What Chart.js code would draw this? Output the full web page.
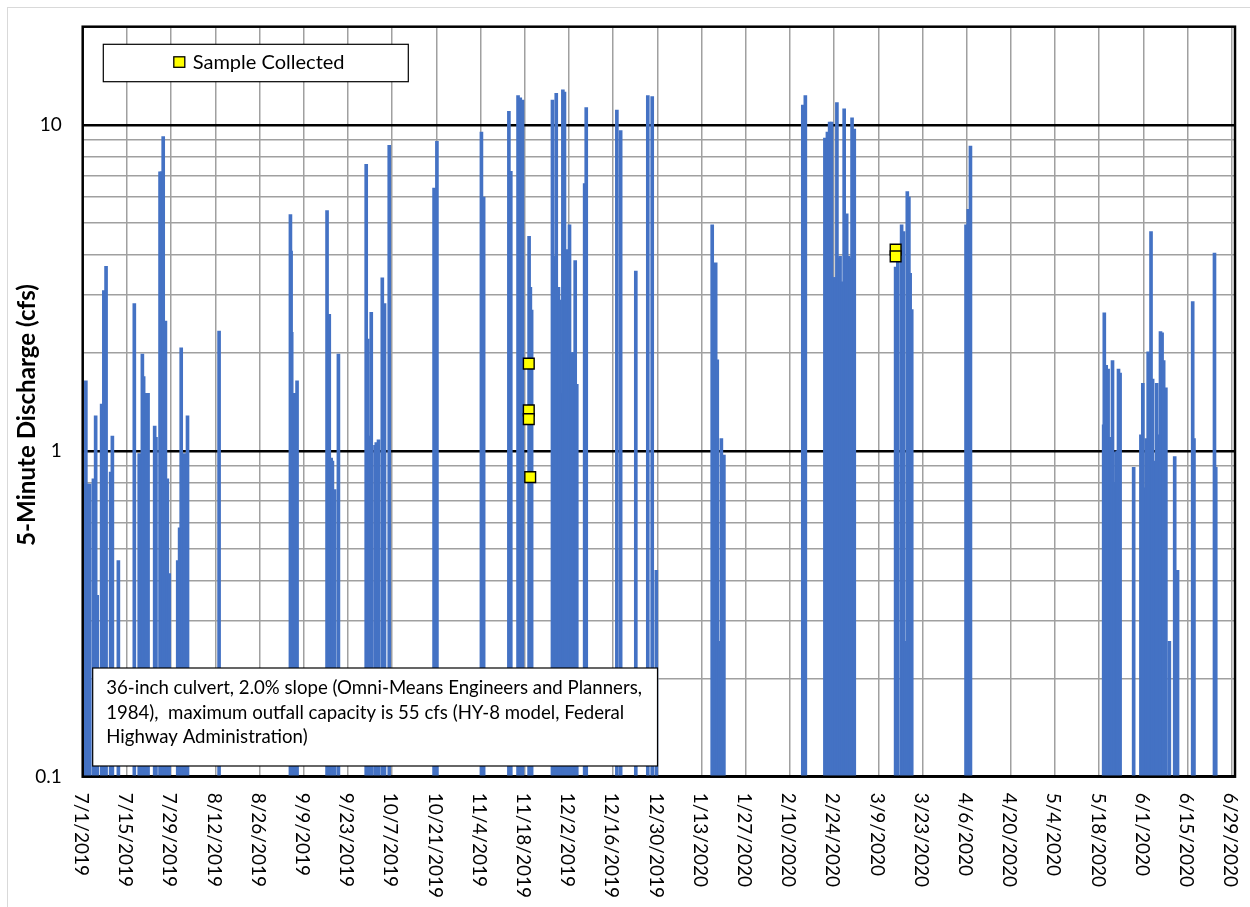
<!DOCTYPE html>
<html><head><meta charset="utf-8">
<script src="https://cdn.jsdelivr.net/npm/chart.js@4.4.1/dist/chart.umd.min.js"></script>
<style>
html,body{margin:0;padding:0;background:#fff;overflow:hidden;width:1250px;height:907px}
#frame{position:absolute;left:7px;top:7px;width:1300px;height:1000px;border:1px solid #d9d9d9;box-sizing:border-box}
canvas{position:absolute;left:0;top:0}
</style></head><body>
<div id="frame"></div>
<canvas id="c" width="1250" height="907"></canvas>
<script>
// ---- data (days since 7/1/2019) ----
const xTickDays = [0,14,28,42,56,70,84,98,112,126,140,154,168,182,196,210,224,238,252,266,280,294,308,322,336,350,364];
const xTickLabels = ['7/1/2019','7/15/2019','7/29/2019','8/12/2019','8/26/2019','9/9/2019','9/23/2019','10/7/2019','10/21/2019','11/4/2019','11/18/2019','12/2/2019','12/16/2019','12/30/2019','1/13/2020','1/27/2020','2/10/2020','2/24/2020','3/9/2020','3/23/2020','4/6/2020','4/20/2020','5/4/2020','5/18/2020','6/1/2020','6/15/2020','6/29/2020'];
const yTickValues = [0.1,0.2,0.3,0.4,0.5,0.6,0.7,0.8,0.9,1,2,3,4,5,6,7,8,9,10,20];
const yLabelValues = [0.1,1,10];

const flowDays = [
 0.3,1.0,1.6,2.2,3.4,4.1,4.6,6.0,6.7,7.4,8.85,9.4,11.3,16.35,17.9,18.9,19.3,19.8,20.2,20.7,22.8,23.2,
 24.5,25.0,25.5,26.2,26.8,27.4,30.1,30.7,31.2,31.7,32.2,32.7,33.2,43.2,
 65.8,66.0,66.2,66.9,67.4,67.9,77.4,78.1,78.7,79.1,79.8,81.0,
 89.8,90.3,90.9,91.4,92.6,93.0,93.7,94.9,95.6,97.1,111.3,112.2,
 126.3,127.0,135.0,135.6,137.9,138.6,139.3,141.4,141.8,142.2,
 148.8,149.3,150.0,150.7,151.1,151.6,152.1,152.6,153.0,153.6,154.2,154.9,155.5,156.0,156.5,159.0,159.5,
 169.2,170.4,175.2,179.0,180.4,181.7,
 199.4,199.9,200.5,201.0,201.6,202.3,203.1,
 228.1,228.9,235.1,235.9,236.6,237.2,237.8,238.3,238.9,239.5,239.9,240.5,241.2,241.6,242.0,242.6,243.1,243.7,244.4,
 257.5,258.2,259.4,260.0,260.6,261.2,261.7,262.1,262.6,279.8,280.5,281.2,
 323.4,323.6,324.2,324.8,325.4,325.8,326.2,326.9,327.3,327.7,328.1,328.6,332.9,
 335.2,335.8,336.3,336.9,337.5,338.4,338.9,339.5,340.2,340.7,341.4,341.9,342.4,343.1,344.2,345.9,346.8,
 351.6,352.0,358.5,358.9
];
const flowCfs = [
 0.79,1.64,0.79,0.79,0.82,1.28,0.36,1.39,3.1,3.68,0.86,1.11,0.46,2.83,0.98,1.98,1.69,1.5,1.5,1.5,1.19,1.1,
 7.18,7.18,9.2,2.5,0.82,0.42,0.46,0.58,2.07,0.6,0.98,0.9,1.28,2.33,
 5.3,4.1,2.31,1.5,1.5,1.64,5.46,2.62,0.95,0.93,0.76,1.98,
 7.57,2.2,1.11,2.66,1.04,1.06,1.08,3.39,2.83,8.65,6.4,8.9,
 9.5,6.0,11.0,7.2,12.3,12.1,11.9,4.55,3.17,2.7,
 11.9,3.95,12.5,3.17,2.9,1.5,12.8,12.6,4.0,4.14,4.93,2.0,2.0,3.83,1.6,6.6,11.3,
 11.1,9.6,3.56,12.3,12.2,0.43,
 4.93,1.95,3.77,1.9,0.26,1.09,0.97,
 11.5,12.3,9.1,9.5,10.2,10.2,3.4,3.4,11.7,3.9,3.95,3.3,11.2,2.04,5.33,3.95,3.9,10.5,9.7,
 3.66,4.3,4.93,4.7,0.26,6.24,6.0,3.5,2.71,4.93,5.5,8.6,
 1.2,2.65,1.83,1.78,1.1,1.0,1.89,0.8,0.99,1.0,1.78,1.73,0.89,
 1.12,1.61,0.77,1.09,2.01,4.7,1.66,0.93,1.61,1.12,2.32,2.3,1.89,1.56,0.26,0.96,0.43,
 2.87,1.09,4.04,0.89
];
const sampleDays = [141.3,141.3,141.3,141.75,257.5,257.5];
const sampleCfs = [1.85,1.33,1.25,0.83,4.14,3.95];

const legendLabel = 'Sample Collected';
const yTitle = '5-Minute Discharge (cfs)';
const noteLines = [
 '36-inch culvert, 2.0% slope (Omni-Means Engineers and Planners,',
 '1984),  maximum outfall capacity is 55 cfs (HY-8 model, Federal',
 'Highway Administration)'
];

const FONT = 'Lato, "Open Sans", sans-serif';
const BLUE = '#4472C4';

function fitFont(ctx, text, target, base, weight) {
  ctx.font = `${weight||''} ${base}px ${FONT}`;
  const w = ctx.measureText(text).width;
  return base * target / w;
}

const overlay = {
  id: 'overlay',
  afterDatasetsDraw(chart) {
    const {ctx, chartArea: a} = chart;
    ctx.save();
    ctx.strokeStyle = '#000';
    ctx.lineWidth = 2.5;
    ctx.strokeRect(a.left, a.top, a.right - a.left, a.bottom - a.top);
    ctx.restore();
  },
  afterDraw(chart) {
    const {ctx, chartArea: a, scales} = chart;
    const xs = scales.x;
    ctx.save();
    ctx.fillStyle = '#000';
    // x tick labels, rotated clockwise
    ctx.font = `19px ${FONT}`;
    ctx.textAlign = 'left';
    ctx.textBaseline = 'middle';
    xTickDays.forEach((d, i) => {
      const px = xs.getPixelForValue(d);
      ctx.save();
      ctx.translate(px - 1.5, a.bottom + 16);
      ctx.rotate(Math.PI / 2);
      ctx.fillText(xTickLabels[i], 0, 0);
      ctx.restore();
    });
    // y title
    const ts = fitFont(ctx, yTitle, 262, 16, 'bold');
    ctx.font = `bold ${ts}px ${FONT}`;
    ctx.save();
    ctx.translate(27, 415);
    ctx.rotate(-Math.PI / 2);
    ctx.textAlign = 'center';
    ctx.fillText(yTitle, 0, 0);
    ctx.restore();
    // legend box
    const lx = a.left + 20.6, ly = a.top + 17.6, lw = 305, lh = 37.4;
    ctx.fillStyle = '#fff';
    ctx.fillRect(lx, ly, lw, lh);
    ctx.strokeStyle = '#000';
    ctx.lineWidth = 1.2;
    ctx.strokeRect(lx, ly, lw, lh);
    ctx.fillStyle = '#FFFF00';
    ctx.fillRect(lx + 70.5, ly + 12.5, 11, 10.5);
    ctx.lineWidth = 1.3;
    ctx.strokeRect(lx + 70.5, ly + 12.5, 11, 10.5);
    ctx.fillStyle = '#000';
    const ls = fitFont(ctx, legendLabel, 152, 20);
    ctx.font = `${ls}px ${FONT}`;
    ctx.textAlign = 'left';
    ctx.textBaseline = 'middle';
    ctx.fillText(legendLabel, lx + 89.4, ly + 18.5);
    // note box
    const nx = a.left + 10, ny = a.bottom - 108.7, nw = 564.8, nh = 98;
    ctx.fillStyle = '#fff';
    ctx.fillRect(nx, ny, nw, nh);
    ctx.strokeStyle = '#000';
    ctx.lineWidth = 1.2;
    ctx.strokeRect(nx, ny, nw, nh);
    ctx.fillStyle = '#000';
    const ns = fitFont(ctx, noteLines[0], 536, 16);
    ctx.font = `${ns}px ${FONT}`;
    noteLines.forEach((t, i) => ctx.fillText(t, nx + 13.5, ny + 20 + i * 24.5));
    ctx.restore();
  }
};

function noPad(s) { s.paddingTop = 0; s.paddingBottom = 0; s.paddingLeft = 0; s.paddingRight = 0; }

function build() {
  new Chart(document.getElementById('c'), {
    type: 'bar',
    data: {
      datasets: [
        {
          type: 'scatter',
          label: legendLabel,
          data: sampleDays.map((d, i) => ({x: d, y: sampleCfs[i]})),
          pointStyle: 'rect',
          pointRadius: 7.6,
          backgroundColor: '#FFFF00',
          borderColor: '#000',
          borderWidth: 1.4,
          order: 1
        },
        {
          type: 'bar',
          label: 'Discharge',
          data: flowDays.map((d, i) => ({x: d, y: flowCfs[i]})),
          backgroundColor: BLUE,
          borderWidth: 0,
          barThickness: 3,
          order: 2
        }
      ]
    },
    options: {
      responsive: false,
      animation: false,
      devicePixelRatio: 1,
      events: [],
      layout: {padding: {top: 26.7, right: 15, bottom: 0, left: 0}},
      plugins: {legend: {display: false}, tooltip: {enabled: false}},
      scales: {
        x: {
          type: 'linear',
          min: 0, max: 365,
          offset: false,
          afterBuildTicks: s => { s.ticks = xTickDays.map(v => ({value: v})); },
          afterFit: s => { s.height = 907 - 776.7; noPad(s); },
          ticks: {display: false},
          grid: {color: '#a0a0a0', lineWidth: 1.5, drawTicks: false, offset: false},
          border: {display: false}
        },
        y: {
          type: 'logarithmic',
          min: 0.1, max: 20,
          afterBuildTicks: s => { s.ticks = yTickValues.map(v => ({value: v})); },
          afterFit: s => { s.width = 82.7; noPad(s); },
          ticks: {
            autoSkip: false,
            padding: 21,
            color: '#000',
            font: {family: FONT, size: 19},
            callback: v => yLabelValues.includes(v) ? String(v) : ''
          },
          grid: {
            drawTicks: false,
            color: c => (c.tick && yLabelValues.includes(c.tick.value)) ? '#000' : '#a0a0a0',
            lineWidth: c => (c.tick && yLabelValues.includes(c.tick.value)) ? 2.5 : 1.5
          },
          border: {display: false}
        }
      }
    },
    plugins: [overlay]
  });
}

const fontLoads = [document.fonts.load(`19px Lato`), document.fonts.load(`bold 16px Lato`)];
Promise.race([Promise.all(fontLoads), new Promise(r => setTimeout(r, 800))]).then(build, build);
</script>
</body></html>
